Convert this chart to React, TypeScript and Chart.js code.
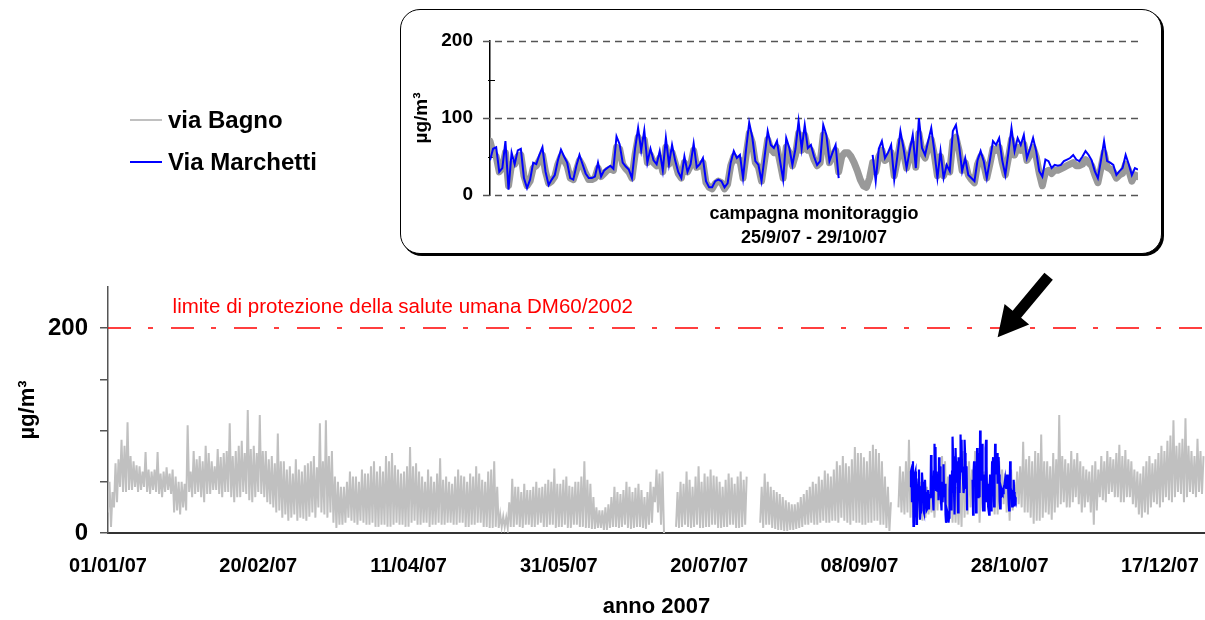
import React, { useEffect, useRef } from 'react';
import { Chart, registerables } from 'chart.js';

Chart.register(...registerables);

const FONT = '"Liberation Sans", Arial, Helvetica, sans-serif';
Chart.defaults.font.family = FONT;

// ---------- axes / labels ----------
const X_TICK_DAYS = [0, 50, 100, 150, 200, 250, 300, 350];
const X_TICK_LABELS = ['01/01/07', '20/02/07', '11/04/07', '31/05/07', '20/07/07', '08/09/07', '28/10/07', '17/12/07'];
const Y_TICKS_MAIN = [0, 50, 100, 150, 200];
const Y_LABELS_MAIN = [0, 200];
const Y_TICKS_INSET = [0, 50, 100, 150, 200];
const Y_LABELS_INSET = [0, 100, 200];
const Y_GRID_INSET = [0, 100, 200];
const LIMIT_VALUE = 200;
const LIMIT_LABEL = 'limite di protezione della salute umana DM60/2002';
const YEAR_DAYS = 365;
const CAMPAIGN_START_DAY = 267; // 25/9/07
const CAMPAIGN_DAYS = 35; // to 29/10/07
const CAMPAIGN_STEP_H = 4;

// ---------- via Bagno, whole year: daily minimum and daily maximum ----------
const BAGNO_DAY_LOW = [
  20, 6, 25, 30, 45, 40, 40, 42, 42, 45,
  40, 42, 45, 40, 38, 42, 40, 38, 35, 40,
  42, 38, 20, 22, 18, 25, 22, 40, 35, 38,
  40, 35, 30, 38, 38, 42, 42, 38, 35, 40,
  40, 35, 30, 35, 35, 40, 38, 32, 30, 35,
  40, 38, 35, 30, 28, 25, 20, 22, 15, 18,
  12, 15, 18, 12, 15, 14, 12, 16, 20, 15,
  25, 20, 18, 15, 20, 10, 5, 8, 8, 10,
  15, 12, 10, 8, 12, 10, 8, 8, 10, 6,
  6, 8, 8, 6, 6, 8, 10, 8, 8, 6,
  6, 10, 12, 8, 8, 10, 10, 6, 8, 8,
  10, 8, 8, 10, 10, 8, 8, 10, 10, 6,
  6, 8, 8, 10, 10, 6, 6, 5, 5, 6,
  5, 6, 6, 5, 6, 6, 8, 6, 5, 8,
  8, 6, 6, 8, 10, 6, 6, 8, 8, 5,
  6, 6, 8, 5, 5, 8, 8, 6, 6, 5,
  5, 4, 4, 5, 5, 3, 3, 5, 6, 6,
  5, 6, 8, 5, 4, 5, 6, 6, 5, 4,
  8, 10, 30, 20, 8, 0, null, null, null, 6,
  5, 6, 8, 6, 5, 6, 8, 5, 5, 6,
  6, 8, 8, 5, 5, 6, 6, 8, 8, 5,
  5, 6, 8, null, null, null, null, 10, 5, 8,
  8, 5, 4, 3, 3, 2, 2, 3, 3, 4,
  5, 6, 8, 8, 10, 8, 8, 10, 12, 10,
  10, 12, 12, 10, 15, 12, 10, 8, 12, 10,
  10, 8, 8, 10, 10, 12, 12, 8, 8, 5,
  2, null, null, 25, 20, 18, 20, 15, 10, 15,
  15, 12, 15, 18, 20, 15, 22, 28, 30, 18,
  18, 10, 10, 8, 6, 15, 18, 25, 30, 35,
  10, 22, 30, 25, 30, 18, 18, 25, 28, 20,
  12, 22, 30, 28, 25, 20, 20, 15, 9, 12,
  12, 15, 20, 18, 13, 20, 25, 28, 30, 25,
  25, 30, 35, 28, 20, 25, 30, 20, 8, 22,
  35, 32, 30, 38, 40, 35, 35, 30, 30, 35,
  35, 28, 25, 18, 15, 20, 18, 25, 30, 28,
  25, 30, 35, 32, 30, 35, 40, 38, 30, 35,
  40, 38, 35, 40, 38,
];
const BAGNO_DAY_HIGH = [
  50, 40, 68, 72, 91, 85, 108, 75, 70, 66,
  65, 60, 79, 62, 60, 62, 79, 58, 60, 64,
  58, 62, 55, 50, 50, 48, 105, 60, 80, 72,
  75, 70, 85, 78, 70, 65, 82, 74, 78, 80,
  107, 75, 80, 85, 90, 78, 120, 82, 85, 78,
  115, 80, 80, 72, 75, 68, 97, 70, 70, 62,
  65, 58, 72, 62, 60, 66, 68, 70, 75, 64,
  107, 70, 110, 75, 80, 55, 50, 45, 45, 50,
  60, 55, 55, 50, 62, 58, 58, 65, 70, 60,
  65, 60, 75, 70, 78, 66, 62, 58, 60, 65,
  84, 65, 68, 60, 55, 50, 62, 55, 50, 58,
  73, 52, 55, 50, 48, 55, 62, 56, 55, 50,
  58, 55, 65, 58, 52, 50, 60, 62, 70, 45,
  18, 16, 15, 30, 53, 45, 45, 40, 48, 42,
  42, 45, 50, 44, 45, 48, 52, 50, 63, 48,
  48, 52, 55, 46, 45, 50, 50, 55, 70, 52,
  48, 35, 25, 22, 22, 25, 28, 35, 45, 40,
  38, 42, 50, 45, 40, 44, 48, 42, 35, 40,
  50, 45, 62, 58, 60, null, null, null, null, 40,
  50, 48, 60, 52, 45, 55, 65, 50, 58, 55,
  62, 56, 55, 50, 45, 52, 58, 54, 48, 55,
  60, 52, 55, null, null, null, null, 45, 58, 50,
  45, 42, 40, 38, 35, 32, 30, 28, 28, 30,
  35, 38, 42, 45, 50, 48, 55, 52, 61, 58,
  55, 62, 70, 66, 75, 68, 65, 72, 84, 78,
  78, 74, 70, 80, 86, 82, 78, 70, 55, 45,
  30, null, null, 65, 60, 70, 91, 65, 55, 50,
  50, 45, 45, 40, 40, 60, 62, 75, 70, 55,
  55, 48, 45, 50, 80, 70, 70, 62, 80, 75,
  55, 60, 50, 52, 65, 70, 70, 62, 58, 55,
  62, 50, 60, 65, 89, 72, 75, 70, 80, 78,
  96, 70, 70, 65, 78, 72, 115, 75, 72, 68,
  80, 72, 78, 70, 65, 62, 60, 66, 70, 62,
  75, 70, 80, 74, 72, 78, 86, 75, 81, 72,
  70, 62, 60, 58, 65, 70, 75, 68, 72, 78,
  85, 80, 90, 95, 110, 85, 88, 92, 112, 85,
  80, 75, 92, 80, 75,
];

// ---------- campaign 25/9/07 - 29/10/07, one value every 4 hours ----------
const MARCHETTI_CAMPAIGN = [
  45, 60, 62, 30, 35, 70, 7, 55, 40, 58,
  60, 22, 9, 20, 42, 40, 52, 62, 30, 13,
  20, 26, 45, 59, 50, 42, 22, 20, 38, 52,
  40, 28, 22, 22, 24, 42, 24, 32, 35, 38,
  34, 76, 66, 42, 37, 33, 22, 60, 87, 58,
  84, 42, 60, 45, 40, 57, 32, 74, 40, 65,
  45, 30, 22, 50, 30, 40, 67, 36, 40, 48,
  18, 10, 10, 18, 20, 18, 10, 15, 42, 57,
  48, 52, 22, 60, 94, 75, 44, 39, 18, 50,
  83, 65, 61, 70, 44, 20, 74, 61, 39, 60,
  96, 60, 91, 61, 65, 50, 39, 44, 91, 78,
  44, 55, 65, 22, null, null, null, null, null, null,
  null, null, null, null, 52, 18, 60, 70, 48, 55,
  65, 20, 50, 83, 61, 35, 57, 78, 35, 100,
  61, 52, 70, 87, 57, 22, 57, 22, 39, 31,
  83, 91, 65, 31, 48, 26, 22, 18, 45, 57,
  44, 22, 45, 70, 65, 74, 45, 26, 55, 87,
  57, 74, 65, 78, 48, 60, 74, 57, 31, 24,
  46, 44, 35, 39, 38, 39, 44, 46, 48, 52,
  46, 44, 50, 57, 52, 45, 31, 22, 45, 70,
  44, 42, 39, 26, 31, 35, 52, 40, 26, 35, 33,
];
const BAGNO_CAMPAIGN = [
  70, 55, 50, 30, 35, 55, 12, 40, 40, 50,
  52, 25, 12, 18, 35, 38, 45, 52, 30, 15,
  18, 24, 40, 50, 45, 38, 22, 20, 32, 45,
  38, 28, 20, 20, 22, 35, 24, 28, 32, 34,
  32, 62, 60, 40, 34, 30, 22, 52, 75, 58,
  72, 42, 52, 42, 38, 48, 30, 62, 40, 55,
  42, 28, 22, 42, 30, 38, 58, 36, 38, 42,
  16, 10, 8, 15, 18, 16, 8, 14, 38, 50,
  45, 45, 22, 52, 80, 68, 42, 36, 18, 45,
  72, 60, 55, 62, 42, 22, 62, 55, 38, 52,
  80, 58, 78, 58, 58, 46, 38, 42, 78, 70,
  42, 50, 58, 30, 50, 55, 55, 50, 42, 32,
  20, 12, 10, 22, 42, 30, 50, 58, 45, 48,
  55, 25, 45, 70, 55, 35, 50, 66, 36, 80,
  56, 48, 62, 72, 52, 25, 50, 25, 35, 30,
  70, 75, 58, 32, 42, 26, 20, 16, 40, 50,
  40, 22, 40, 60, 58, 62, 42, 26, 48, 72,
  52, 62, 58, 66, 45, 52, 62, 50, 28, 12,
  30, 32, 28, 32, 32, 34, 36, 38, 40, 42,
  38, 38, 40, 46, 42, 38, 26, 16, 35, 55,
  36, 34, 30, 22, 26, 28, 40, 32, 18, 26, 24,
];

const GRAY_MAIN = '#c0c0c0';
const GRAY_INSET = '#999999';
const BLUE = '#0000ff';
const RED = '#ff0000';

function buildYearBagno() {
  const pts: { x: number; y: number | null }[] = [];
  for (let d = 0; d < YEAR_DAYS; d++) {
    pts.push({ x: d, y: BAGNO_DAY_LOW[d] });
    pts.push({ x: d + 0.5, y: BAGNO_DAY_HIGH[d] });
  }
  return pts;
}

const annotationPlugin = {
  id: 'mainAnnotations',
  afterDraw(chart: any) {
    const ctx = chart.ctx;
    const xs = chart.scales.x;
    const ys = chart.scales.y;
    ctx.save();
    // legend
    ctx.lineWidth = 2;
    ctx.strokeStyle = GRAY_MAIN;
    ctx.beginPath();
    ctx.moveTo(130, 120);
    ctx.lineTo(162, 120);
    ctx.stroke();
    ctx.strokeStyle = BLUE;
    ctx.beginPath();
    ctx.moveTo(130, 162);
    ctx.lineTo(162, 162);
    ctx.stroke();
    ctx.fillStyle = '#000';
    ctx.font = `bold 24px ${FONT}`;
    ctx.textBaseline = 'alphabetic';
    ctx.textAlign = 'left';
    ctx.fillText('via Bagno', 168, 128);
    ctx.fillText('Via Marchetti', 168, 170);

    // limit label
    ctx.fillStyle = RED;
    ctx.font = `20.5px ${FONT}`;
    ctx.fillText(LIMIT_LABEL, xs.getPixelForValue(21.5), ys.getPixelForValue(LIMIT_VALUE) - 15);

    // arrow pointing at the campaign period
    const tip = { x: xs.getPixelForValue(296), y: ys.getPixelForValue(191) };
    const tail = { x: tip.x + 51, y: tip.y - 61 };
    const dx = tip.x - tail.x;
    const dy = tip.y - tail.y;
    const len = Math.hypot(dx, dy);
    const ux = dx / len, uy = dy / len;
    const nx = -uy, ny = ux;
    const headLen = 30, headHalf = 16, shaftHalf = 5.5;
    const neck = { x: tip.x - ux * headLen, y: tip.y - uy * headLen };
    ctx.fillStyle = '#000';
    ctx.beginPath();
    ctx.moveTo(tail.x + nx * shaftHalf, tail.y + ny * shaftHalf);
    ctx.lineTo(neck.x + nx * shaftHalf, neck.y + ny * shaftHalf);
    ctx.lineTo(neck.x + nx * headHalf, neck.y + ny * headHalf);
    ctx.lineTo(tip.x, tip.y);
    ctx.lineTo(neck.x - nx * headHalf, neck.y - ny * headHalf);
    ctx.lineTo(neck.x - nx * shaftHalf, neck.y - ny * shaftHalf);
    ctx.lineTo(tail.x - nx * shaftHalf, tail.y - ny * shaftHalf);
    ctx.closePath();
    ctx.fill();
    ctx.restore();
  },
};

const insetGridPlugin = {
  id: 'insetGrid',
  beforeDatasetsDraw(chart: any) {
    const ctx = chart.ctx;
    const xs = chart.scales.x;
    const ys = chart.scales.y;
    ctx.save();
    ctx.strokeStyle = '#555555';
    ctx.lineWidth = 1.5;
    ctx.setLineDash([7, 5]);
    for (const v of Y_GRID_INSET) {
      const y = Math.round(ys.getPixelForValue(v)) + 0.5;
      ctx.beginPath();
      ctx.moveTo(xs.left - 7, y);
      ctx.lineTo(xs.right, y);
      ctx.stroke();
    }
    ctx.setLineDash([]);
    ctx.strokeStyle = '#000';
    ctx.lineWidth = 1;
    for (const v of Y_TICKS_INSET) {
      if (Y_GRID_INSET.includes(v)) continue;
      const y = Math.round(ys.getPixelForValue(v)) + 0.5;
      ctx.beginPath();
      ctx.moveTo(xs.left - 2, y);
      ctx.lineTo(xs.left + 5, y);
      ctx.stroke();
    }
    ctx.restore();
  },
};

export default function App() {
  const mainRef = useRef<HTMLCanvasElement>(null);
  const insetRef = useRef<HTMLCanvasElement>(null);

  useEffect(() => {
    const bagnoYear = buildYearBagno();
    const marchettiYear = MARCHETTI_CAMPAIGN.map((v, k) => ({
      x: CAMPAIGN_START_DAY + (k * CAMPAIGN_STEP_H) / 24,
      y: v,
    }));
    const limitLine = [
      { x: 0, y: LIMIT_VALUE },
      { x: YEAR_DAYS, y: LIMIT_VALUE },
    ];

    const main = new Chart(mainRef.current as HTMLCanvasElement, {
      type: 'line',
      data: {
        datasets: [
          { label: 'via Bagno', data: bagnoYear, borderColor: GRAY_MAIN, borderWidth: 2, pointRadius: 0, tension: 0, order: 3 },
          { label: 'Via Marchetti', data: marchettiYear, borderColor: BLUE, borderWidth: 2.2, pointRadius: 0, tension: 0, order: 2 },
          { label: 'limite', data: limitLine, borderColor: RED, borderWidth: 1.5, borderDash: [23, 17, 5, 18], pointRadius: 0, order: 1 },
        ],
      } as any,
      options: {
        animation: false,
        responsive: false,
        events: [],
        layout: { padding: { top: 287, left: 0, right: 0, bottom: 0 } },
        plugins: { legend: { display: false }, tooltip: { enabled: false } },
        scales: {
          x: {
            type: 'linear',
            min: 0,
            max: YEAR_DAYS,
            afterBuildTicks: (s: any) => {
              s.ticks = X_TICK_DAYS.map((v) => ({ value: v }));
            },
            afterFit: (s: any) => {
              s.height = 87;
              s.paddingLeft = 0;
              s.paddingRight = 0;
            },
            grid: { display: false, drawTicks: false },
            border: { display: true, color: '#333333', width: 2 },
            ticks: {
              padding: 21,
              maxRotation: 0,
              autoSkip: false,
              color: '#000',
              font: { family: FONT, size: 20, weight: 'bold' },
              callback: (v: any) => {
                const i = X_TICK_DAYS.indexOf(Number(v));
                return i >= 0 ? X_TICK_LABELS[i] : '';
              },
            },
            title: {
              display: true,
              text: 'anno 2007',
              color: '#000',
              font: { family: FONT, size: 22, weight: 'bold' },
              padding: { top: 0, bottom: 0 },
            },
          },
          y: {
            type: 'linear',
            min: 0,
            max: 240,
            afterBuildTicks: (s: any) => {
              s.ticks = Y_TICKS_MAIN.map((v) => ({ value: v }));
            },
            afterFit: (s: any) => {
              s.width = 108;
            },
            grid: { drawOnChartArea: false, drawTicks: true, tickLength: 8, color: '#555555', lineWidth: 1.5 },
            border: { display: true, color: '#555555', width: 1.5 },
            ticks: {
              padding: 12,
              color: '#000',
              font: { family: FONT, size: 24, weight: 'bold' },
              callback: (v: any) => (Y_LABELS_MAIN.includes(Number(v)) ? String(v) : ''),
            },
            title: {
              display: true,
              text: 'µg/m³',
              color: '#000',
              font: { family: FONT, size: 22, weight: 'bold' },
              padding: { top: 15, bottom: 0 },
            },
          },
        },
      } as any,
      plugins: [annotationPlugin],
    });

    const marchettiInset = MARCHETTI_CAMPAIGN.map((v, k) => ({ x: k * CAMPAIGN_STEP_H, y: v }));
    const bagnoInset = BAGNO_CAMPAIGN.map((v, k) => ({ x: k * CAMPAIGN_STEP_H, y: v }));

    const inset = new Chart(insetRef.current as HTMLCanvasElement, {
      type: 'line',
      data: {
        datasets: [
          { label: 'via Bagno', data: bagnoInset, borderColor: GRAY_INSET, borderWidth: 7, pointRadius: 0, tension: 0, borderJoinStyle: 'round', borderCapStyle: 'round', order: 2 },
          { label: 'Via Marchetti', data: marchettiInset, borderColor: BLUE, borderWidth: 2, pointRadius: 0, tension: 0, order: 1 },
        ],
      } as any,
      options: {
        animation: false,
        responsive: false,
        events: [],
        layout: { padding: { top: 32, left: 0, right: 24, bottom: 0 } },
        plugins: { legend: { display: false }, tooltip: { enabled: false } },
        scales: {
          x: {
            type: 'linear',
            min: 0,
            max: CAMPAIGN_DAYS * 24,
            afterFit: (s: any) => {
              s.height = 59;
              s.paddingLeft = 0;
              s.paddingRight = 0;
            },
            grid: { display: false, drawTicks: false },
            border: { display: false },
            ticks: { display: false },
            title: {
              display: true,
              text: ['campagna monitoraggio', '25/9/07 - 29/10/07'],
              color: '#000',
              font: { family: FONT, size: 18, weight: 'bold', lineHeight: 24 / 18 },
              padding: { top: 0, bottom: 4 },
            },
          },
          y: {
            type: 'linear',
            min: 0,
            max: 200,
            afterBuildTicks: (s: any) => {
              s.ticks = Y_TICKS_INSET.map((v) => ({ value: v }));
            },
            afterFit: (s: any) => {
              s.width = 90;
            },
            grid: { display: false, drawTicks: false },
            border: { display: true, color: '#000', width: 1.5 },
            ticks: {
              padding: 17,
              color: '#000',
              font: { family: FONT, size: 19, weight: 'bold' },
              callback: (v: any) => (Y_LABELS_INSET.includes(Number(v)) ? String(v) : ''),
            },
            title: {
              display: true,
              text: 'µg/m³',
              color: '#000',
              font: { family: FONT, size: 19, weight: 'bold' },
              padding: { top: 10, bottom: 0 },
            },
          },
        },
      } as any,
      plugins: [insetGridPlugin],
    });

    return () => {
      main.destroy();
      inset.destroy();
    };
  }, []);

  return (
    <div style={{ position: 'absolute', left: 0, top: 0, width: 1205, height: 620, background: '#fff', overflow: 'hidden' }}>
      <canvas ref={mainRef} width={1205} height={620} style={{ position: 'absolute', left: 0, top: 0, width: 1205, height: 620 }} />
      <div
        style={{
          position: 'absolute',
          left: 400,
          top: 9,
          width: 762,
          height: 245,
          boxSizing: 'border-box',
          border: '1.5px solid #000',
          borderRadius: 20,
          boxShadow: '2px 2px 0 #000',
          background: '#fff',
        }}
      />
      <canvas ref={insetRef} width={762} height={245} style={{ position: 'absolute', left: 400, top: 9, width: 762, height: 245 }} />
    </div>
  );
}
